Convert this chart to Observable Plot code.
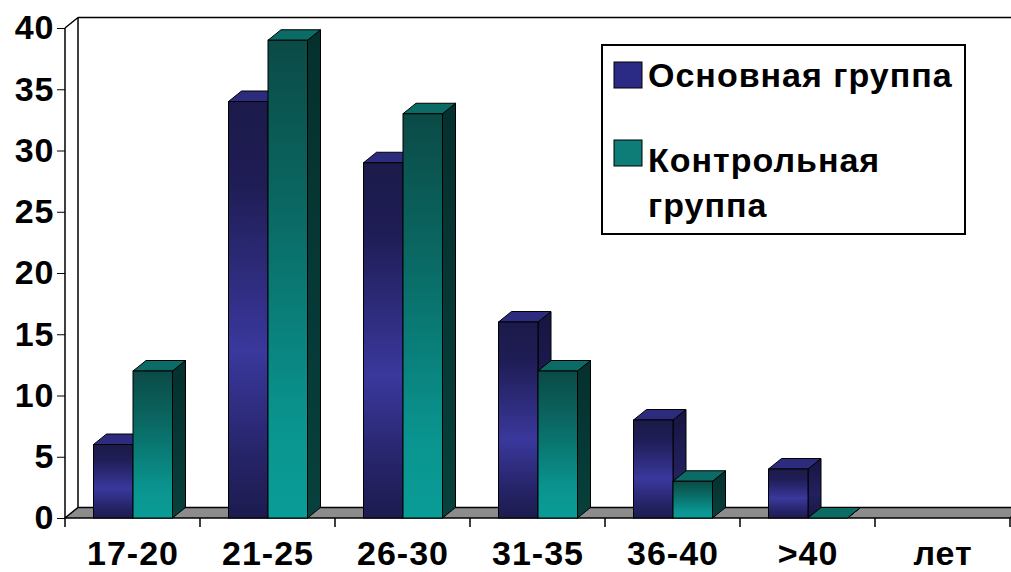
<!DOCTYPE html>
<html><head><meta charset="utf-8">
<script src="https://cdn.jsdelivr.net/npm/d3@7"></script>
<script src="https://cdn.jsdelivr.net/npm/@observablehq/plot@0.6"></script>
<style>
html,body{margin:0;padding:0;background:#fff;}
svg text{font-family:"Liberation Sans",Arial,sans-serif;font-weight:bold;font-size:34px;letter-spacing:1px;fill:#000;}
</style></head><body><div id="chart"></div>
<script>
const categories = ["17-20", "21-25", "26-30", "31-35", "36-40", ">40", "лет"];
const seriesNames = ["Основная группа", "Контрольная группа"];
const mainValues = [6, 34, 29, 16, 8, 4];
const controlValues = [12, 39, 33, 12, 3, 0];
const yMax = 40;

const W = 1011, H = 572, ML = 65, MR = 1, MT = 28, MB = 54;
const bandW = (W - ML - MR) / categories.length;
const barW = 39.5, groupOffset = 28.5;
const DX = 13, DY = -10.5;

const rows = [];
[mainValues, controlValues].forEach((vals, si) =>
  vals.forEach((v, i) => rows.push({cat: categories[i], series: seriesNames[si], si, value: v})));

const NS = "http://www.w3.org/2000/svg";
function el(tag, attrs = {}, parent) {
  const e = document.createElementNS(NS, tag);
  for (const k in attrs) e.setAttribute(k, attrs[k]);
  if (parent) parent.appendChild(e);
  return e;
}
function grad(defs, id, stops) {
  const g = el("linearGradient", {id, x1: 0, y1: 0, x2: 0, y2: 1}, defs);
  stops.forEach(([o, c]) => el("stop", {offset: o, "stop-color": c}, g));
}
function poly(parent, pts, attrs) {
  return el("polygon", Object.assign({points: pts.map(p => p.join(",")).join(" ")}, attrs), parent);
}
function bw(x) { return x.bandwidth ? x.bandwidth() : bandW; }

function defsMark() {
  const g = el("g");
  const defs = el("defs", {}, g);
  grad(defs, "front0", [[0, "#1b1a4a"], [0.2, "#1f1d55"], [0.6, "#3a389c"], [0.85, "#262468"], [1, "#1c1b4e"]]);
  grad(defs, "front1", [[0, "#0b4a46"], [0.35, "#0a6863"], [0.8, "#0a948f"], [1, "#0a9c97"]]);
  grad(defs, "side0", [[0, "#161440"], [0.6, "#23215e"], [1, "#171542"]]);
  grad(defs, "side1", [[0, "#05302d"], [1, "#07403c"]]);
  return g;
}

function wallsMark(index, scales) {
  const x = scales.x, y = scales.y;
  const g = el("g", {stroke: "#000", "stroke-width": 1.5, fill: "none"});
  const x0 = x(categories[0]);
  const x1 = x(categories[categories.length - 1]) + bw(x);
  const yb = y(0), yt = y(yMax);
  poly(g, [[x0, yb], [x1, yb], [x1 + DX, yb + DY], [x0 + DX, yb + DY]], {fill: "#8c8c8c"});
  el("line", {x1: x0, y1: yt, x2: x0, y2: yb}, g);
  el("line", {x1: x0, y1: yt, x2: x0 + DX, y2: yt + DY}, g);
  el("line", {x1: x0 + DX, y1: yt + DY, x2: x0 + DX, y2: yb + DY}, g);
  el("line", {x1: x0 + DX, y1: yt + DY, x2: x1 + DX, y2: yt + DY}, g);
  const bounds = categories.map(c => x(c)).concat([x1]);
  bounds.forEach(bx => el("line", {x1: bx, y1: yb, x2: bx, y2: yb + 9}, g));
  return g;
}

function facesMark(si) {
  return (index, scales) => {
    const x = scales.x, y = scales.y;
    const g = el("g", {stroke: "#000", "stroke-width": 1});
    rows.filter(r => r.si === si).forEach(r => {
      const xl = x(r.cat) + groupOffset + si * barW, xr = xl + barW;
      const yt = y(r.value), yb = y(0);
      poly(g, [[xr, yb], [xr + DX, yb + DY], [xr + DX, yt + DY], [xr, yt]], {fill: `url(#side${si})`});
      poly(g, [[xl, yt], [xr, yt], [xr + DX, yt + DY], [xl + DX, yt + DY]], {fill: si ? "#0d6b65" : "#2d2b7e"});
    });
    return g;
  };
}

function legendMark() {
  const g = el("g", {"text-anchor": "start"});
  el("rect", {x: 602, y: 45, width: 363, height: 189, fill: "#fff", stroke: "#000", "stroke-width": 2}, g);
  const sw = [["#2b2a84", 62], ["#0e7d77", 140]];
  sw.forEach(([c, yy]) => el("rect", {x: 614, y: yy, width: 28, height: 26, fill: c, stroke: "#000", "stroke-width": 1}, g));
  const lines = [[seriesNames[0], 87], [seriesNames[1].split(" ")[0], 172], [seriesNames[1].split(" ")[1], 217]];
  lines.forEach(([t, yy]) => {
    const tx = el("text", {x: 648, y: yy, "text-anchor": "start"}, g);
    tx.textContent = t;
  });
  return g;
}

const chart = Plot.plot({
  width: W, height: H,
  marginLeft: ML, marginRight: MR, marginTop: MT, marginBottom: MB,
  x: {domain: categories, padding: 0, tickSize: 0, tickPadding: 22, label: null},
  y: {domain: [0, yMax], ticks: 8, tickSize: 8, tickPadding: 3, label: null},
  marks: [
    defsMark,
    wallsMark,
    facesMark(0),
    Plot.barY(rows.filter(r => r.si === 0), {x: "cat", y: "value", fill: "url(#front0)", stroke: "#000", strokeWidth: 1,
      insetLeft: groupOffset, insetRight: bandW - groupOffset - barW}),
    facesMark(1),
    Plot.barY(rows.filter(r => r.si === 1), {x: "cat", y: "value", fill: "url(#front1)", stroke: "#000", strokeWidth: 1,
      insetLeft: groupOffset + barW, insetRight: bandW - groupOffset - 2 * barW}),
    legendMark
  ]
});
document.getElementById("chart").appendChild(chart);
</script></body></html>
